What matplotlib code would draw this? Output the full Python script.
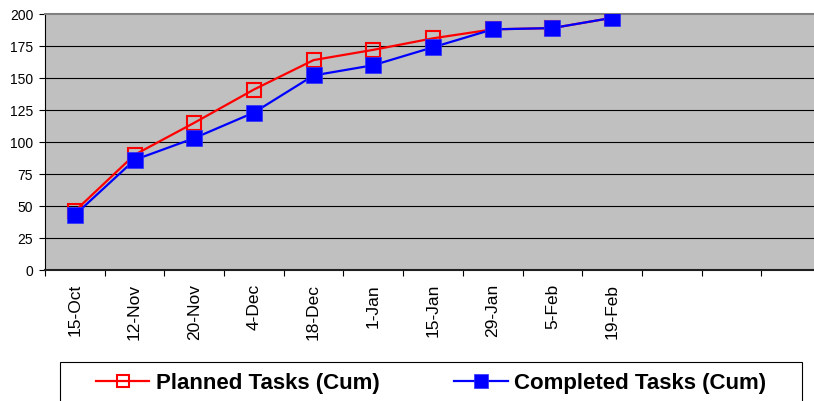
import matplotlib
matplotlib.use("Agg")
import matplotlib.pyplot as plt
from matplotlib.lines import Line2D
from matplotlib.patches import Rectangle

plt.rcParams['font.family'] = ['Liberation Sans', 'DejaVu Sans']

categories = ["15-Oct", "12-Nov", "20-Nov", "4-Dec", "18-Dec", "1-Jan",
              "15-Jan", "29-Jan", "5-Feb", "19-Feb", "", "", ""]
planned = [46, 90, 115, 141, 164, 172, 181, 188, 189, 197]
completed = [43, 86, 103, 123, 152, 160, 174, 188, 189, 197]
yticks = [0, 25, 50, 75, 100, 125, 150, 175, 200]
series_names = ["Planned Tasks (Cum)", "Completed Tasks (Cum)"]

W, H = 814, 401
fig = plt.figure(figsize=(W / 100, H / 100), dpi=100)
ax = fig.add_axes([45 / W, (H - 270) / H, 776 / W, 256 / H])
ax.set_facecolor('#C0C0C0')

n = len(categories)
xs_p = list(range(len(planned)))
xs_c = list(range(len(completed)))

ax.plot(xs_p, planned, color='#FF0000', lw=1.6, marker='s', markersize=9.6,
        markerfacecolor='none', markeredgecolor='#FF0000', markeredgewidth=1.5,
        zorder=3)
ax.plot(xs_c, completed, color='#0000FF', lw=1.6, marker='s', markersize=11.8,
        markerfacecolor='#0000FF', markeredgecolor='#3030FF', markeredgewidth=0.5,
        zorder=4)

ax.set_xlim(-0.5, n - 0.5)
ax.set_ylim(0, 200)

# y axis
ax.set_yticks(yticks)
ax.set_yticklabels([str(v) for v in yticks], fontsize=10)
ax.tick_params(axis='y', direction='out', length=4.5, width=0.8, pad=4, colors='black')
for y in yticks[1:-1]:
    ax.axhline(y, color='black', lw=0.8, zorder=1)

# x axis
ax.set_xticks(range(n))
ax.set_xticklabels(categories, rotation=90, fontsize=12.5)
ax.set_xticks([i - 0.5 for i in range(n + 1)], minor=True)
ax.tick_params(axis='x', which='major', length=0, pad=10)
ax.tick_params(axis='x', which='minor', length=4.5, width=0.8, direction='out')

for s in ['top', 'right']:
    ax.spines[s].set_color('#808080')
    ax.spines[s].set_linewidth(1.5)
ax.spines['left'].set_color('black')
ax.spines['left'].set_linewidth(0.8)
ax.spines['bottom'].set_color('#202020')
ax.spines['bottom'].set_linewidth(1.5)

# legend
handles = [
    Line2D([], [], color='#FF0000', lw=1.6, marker='s', markersize=8.5,
           markerfacecolor='none', markeredgecolor='#FF0000', markeredgewidth=1.5),
    Line2D([], [], color='#0000FF', lw=1.6, marker='s', markersize=9.4,
           markerfacecolor='#0000FF', markeredgecolor='#3030FF', markeredgewidth=0.5),
]
leg = fig.legend(handles, series_names, loc='center left',
                 bbox_to_anchor=(96 / W, 1 - 383 / H), ncol=2, frameon=False,
                 borderpad=0, borderaxespad=0, handlelength=2.4, handletextpad=0.3,
                 columnspacing=3.35, prop={'weight': 'bold', 'size': 16})
fig.patches.append(Rectangle((60 / W, 1 - 430 / H), (802 - 60) / W, (430 - 362) / H,
                             transform=fig.transFigure, fill=False,
                             edgecolor='black', lw=0.8))

fig.savefig('out.png', dpi=100)
